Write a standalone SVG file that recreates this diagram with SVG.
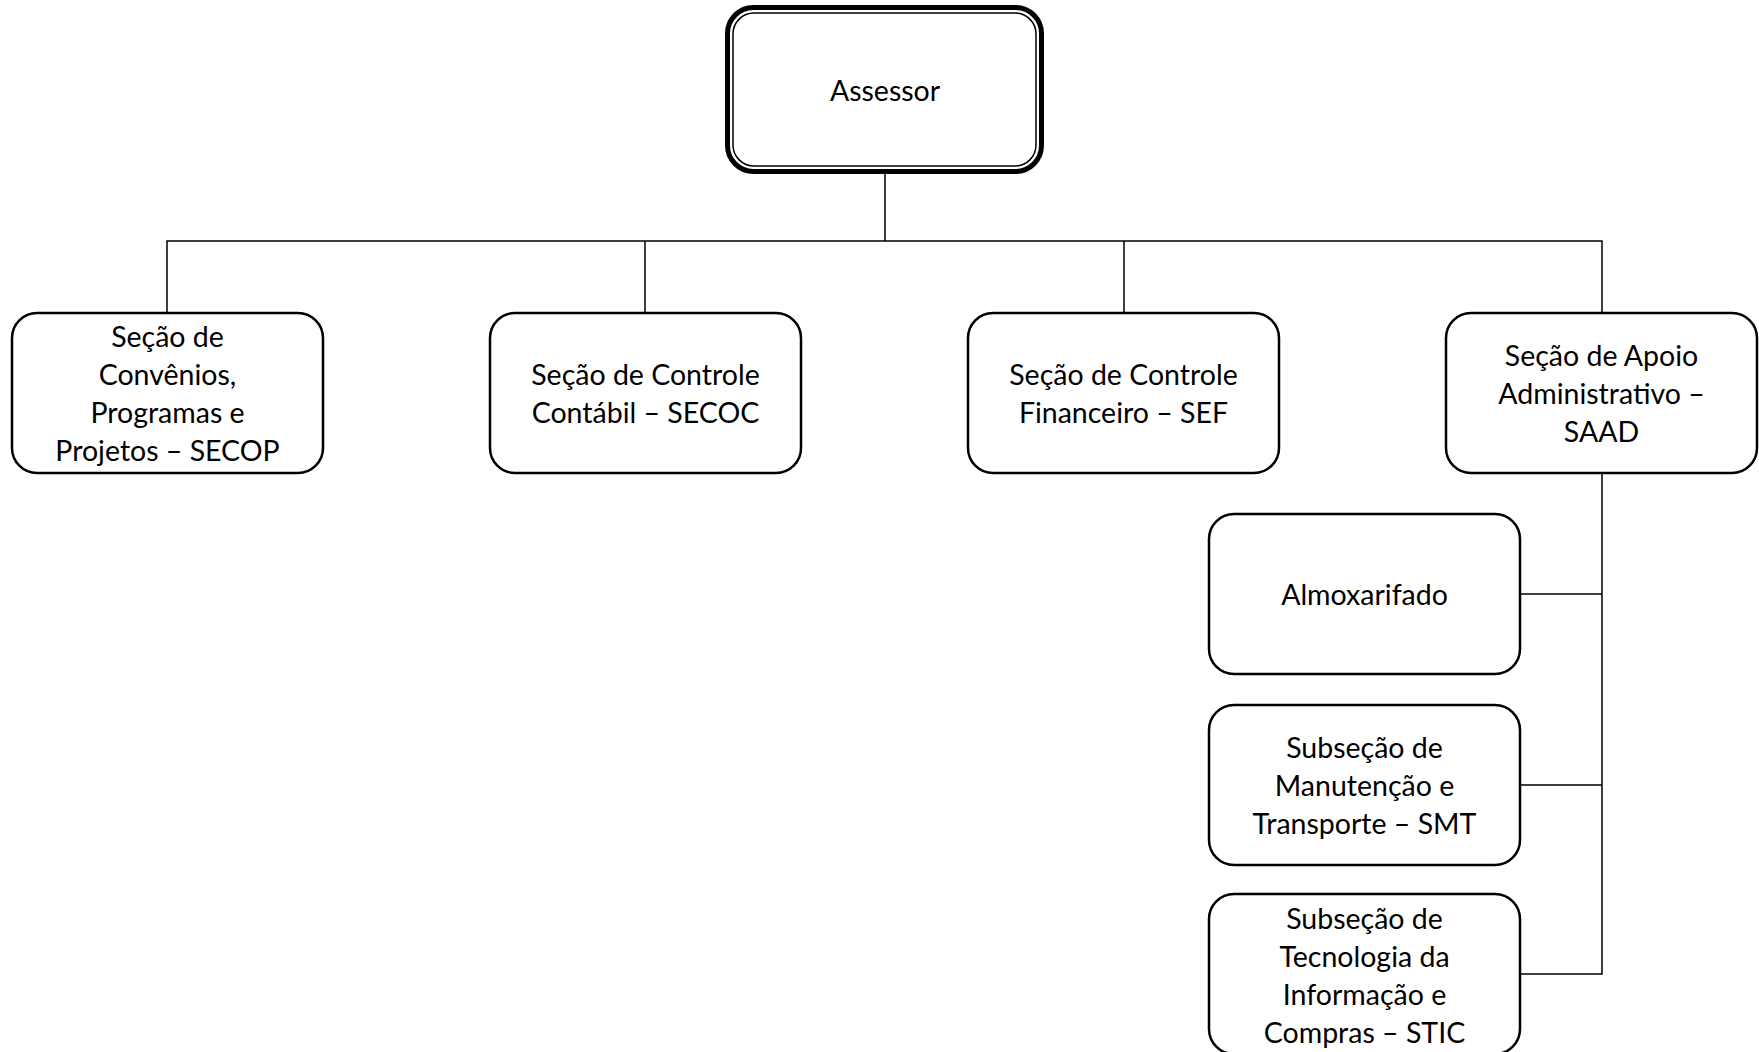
<svg xmlns="http://www.w3.org/2000/svg" width="1759" height="1052" viewBox="0 0 1759 1052">
<style>
.box{fill:#fff;stroke:#000;stroke-width:2.5}
.conn{fill:none;stroke:#000;stroke-width:1.5}
text{font-family:Lato,"Liberation Sans",sans-serif;font-size:28.5px;fill:#000;text-anchor:middle}
</style>
<rect width="1759" height="1052" fill="#fff"/>
<g id="connectors">
<path class="conn" d="M885 174V241M167 313V241H1602V313M645 241V313M1124 241V313"/>
<path class="conn" d="M1602 473V974H1520M1602 594H1520M1602 785H1520"/>
</g>
<g id="assessor">
<rect x="727.5" y="7.5" width="314" height="164" rx="26" fill="#fff" stroke="#000" stroke-width="5"/>
<rect x="733" y="13" width="303" height="153" rx="21" fill="none" stroke="#000" stroke-width="1.5"/>
<text x="885" y="101">Assessor</text>
</g>
<g id="secop">
<rect class="box" x="12" y="313" width="311" height="160" rx="25"/>
<text x="167.5" y="347">Seção de</text>
<text x="167.5" y="385">Convênios,</text>
<text x="167.5" y="423">Programas e</text>
<text x="167.5" y="461">Projetos – SECOP</text>
</g>
<g id="secoc">
<rect class="box" x="490" y="313" width="311" height="160" rx="25"/>
<text x="645.5" y="385">Seção de Controle</text>
<text x="645.5" y="423">Contábil – SECOC</text>
</g>
<g id="sef">
<rect class="box" x="968" y="313" width="311" height="160" rx="25"/>
<text x="1123.5" y="385">Seção de Controle</text>
<text x="1123.5" y="423">Financeiro – SEF</text>
</g>
<g id="saad">
<rect class="box" x="1446" y="313" width="311" height="160" rx="25"/>
<text x="1601.5" y="366">Seção de Apoio</text>
<text x="1601.5" y="404">Administrativo –</text>
<text x="1601.5" y="442">SAAD</text>
</g>
<g id="almoxarifado">
<rect class="box" x="1209" y="514" width="311" height="160" rx="25"/>
<text x="1364.5" y="605">Almoxarifado</text>
</g>
<g id="smt">
<rect class="box" x="1209" y="705" width="311" height="160" rx="25"/>
<text x="1364.5" y="758">Subseção de</text>
<text x="1364.5" y="796">Manutenção e</text>
<text x="1364.5" y="834">Transporte – SMT</text>
</g>
<g id="stic">
<rect class="box" x="1209" y="894" width="311" height="160" rx="25"/>
<text x="1364.5" y="929">Subseção de</text>
<text x="1364.5" y="967">Tecnologia da</text>
<text x="1364.5" y="1005">Informação e</text>
<text x="1364.5" y="1043">Compras – STIC</text>
</g>
</svg>
